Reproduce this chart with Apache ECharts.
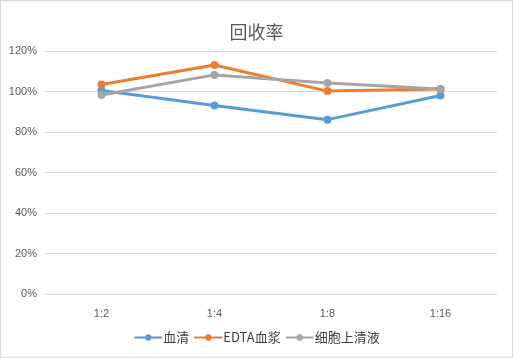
<!DOCTYPE html>
<html><head><meta charset="utf-8">
<script src="https://cdn.jsdelivr.net/npm/echarts@6/dist/echarts.min.js"></script>
<style>
html,body{margin:0;padding:0;background:#fff;}
#wrap{width:513px;height:358px;box-sizing:border-box;border:1px solid #D9D9D9;}
#c{width:511px;height:356px;}
</style></head>
<body><div id="wrap"><div id="c"></div></div>
<script>
const categories = ['1:2', '1:4', '1:8', '1:16'];
const seriesNames = ['血清', 'EDTA血浆', '细胞上清液'];
const serum = [100.5, 93.1, 86.1, 98.0];
const edtaPlasma = [103.5, 113.1, 100.2, 101.2];
const supernatant = [98.3, 108.2, 104.2, 101.2];
const colors = ['#5B9BD5', '#ED7D31', '#A5A5A5'];

const chart = echarts.init(document.getElementById('c'));
const mk = (name, data, color) => ({
  name, type: 'line', data,
  symbol: 'circle', symbolSize: 8,
  lineStyle: { width: 3, color },
  itemStyle: { color },
  z: 2
});
chart.setOption({
  animation: false,
  title: {
    text: '回收率', left: 'center', top: 17,
    textStyle: { fontSize: 18, fontWeight: 'normal', color: '#595959', fontFamily: 'Noto Sans CJK SC' }
  },
  grid: { left: 44, right: 15, top: 50, bottom: 63 },
  legend: {
    bottom: 8, left: 'center', itemWidth: 28, itemHeight: 8, itemGap: 4,
    data: seriesNames,
    textStyle: { fontSize: 13, color: '#404040', fontFamily: 'Noto Sans CJK SC', padding: [0,0,0,-4] }
  },
  xAxis: {
    type: 'category', data: categories, boundaryGap: true,
    axisLine: { show: false }, axisTick: { show: false },
    axisLabel: { fontSize: 11, color: '#595959', margin: 14, fontFamily: 'Liberation Sans' }
  },
  yAxis: {
    type: 'value', min: 0, max: 120, interval: 20,
    axisLine: { show: false }, axisTick: { show: false },
    splitLine: { lineStyle: { color: '#D9D9D9', width: 1 } },
    axisLabel: { fontSize: 11, color: '#595959', margin: 8, formatter: '{value}%', fontFamily: 'Liberation Sans' }
  },
  series: [mk(seriesNames[0], serum, colors[0]), mk(seriesNames[1], edtaPlasma, colors[1]), mk(seriesNames[2], supernatant, colors[2])]
});
</script></body></html>
